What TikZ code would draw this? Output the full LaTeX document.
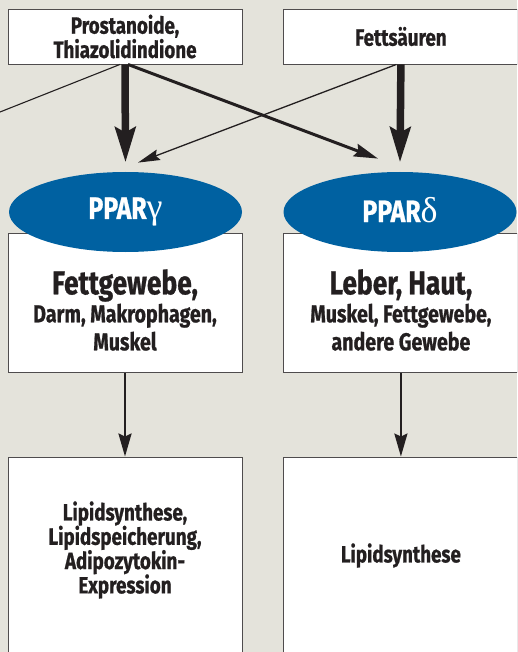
\documentclass[tikz,border=0pt]{standalone}
\usepackage{fontspec}
\setmainfont{Fira Sans}[FakeStretch=0.8, BoldFeatures={FakeBold=0.8}]
\newfontfamily\griech{Liberation Serif}
\usetikzlibrary{positioning,shapes.geometric,arrows.meta}
\definecolor{hintergrund}{HTML}{E4E3DB}
\definecolor{pparblau}{HTML}{0061A1}
\definecolor{schrift}{HTML}{231F20}

\begin{document}
\begin{tikzpicture}[x=1pt, y=-1pt, node distance={41pt}, thick,
        box/.style = {draw=schrift!80, line width=0.9pt, fill=white, minimum width=234pt, inner sep=0pt},
        rezeptor/.style = {ellipse, fill=pparblau, text=white, minimum width=233pt, minimum height=80pt, inner sep=0pt, font=\bfseries\fontsize{31}{31}\selectfont},
        txt/.style = {text=schrift, align=center, inner sep=0pt, font=\bfseries\fontsize{23.5}{24.3}\selectfont},
        gross/.style = {txt, font=\bfseries\fontsize{24.5}{28}\selectfont},
        pfeil/.style = {draw=schrift, -{Stealth[length=23pt, width=13pt, inset=3pt]}} ]
        \useasboundingbox (0,0) rectangle (517,652);
        \fill[hintergrund] (0,0) rectangle (517,652);
        \clip (0,0) rectangle (517,652);

        % Liganden
        \node[box, txt, minimum height=55pt, draw=schrift!80] (quelleL) at (125,36.5) {Prostanoide,\\Thiazolidindione};
        \node[box, txt, minimum height=55pt, draw=schrift!80] (quelleR) [right = of quelleL] {Fetts\"auren};

        % Gewebe
        \node[box, minimum height=139.6pt] (gewebeL) at (125,303) {};
        \node[box, minimum height=139.6pt] (gewebeR) [right = of gewebeL] {};

        % Wirkung
        \node[box, minimum height=197pt] (wirkungL) at (125,555.5) {};
        \node[box, minimum height=197pt] (wirkungR) [right = of wirkungL] {};

        % Rezeptoren
        \node[rezeptor] (pparG) at (125.5,212) {\raisebox{5pt}{PPAR{\griech\mdseries\fontsize{36}{36}\selectfont γ}}};
        \node[rezeptor] (pparD) at (400,212) {\raisebox{5pt}{PPAR{\griech\mdseries\fontsize{36}{36}\selectfont δ}}};

        \node[gross] (gewebeLtxt) at ([yshift=-7pt]gewebeL.center) {{\fontsize{33}{28}\selectfont Fettgewebe,}\\Darm, Makrophagen,\\Muskel};
        \node[gross] (gewebeRtxt) at ([yshift=-7pt]gewebeR.center) {{\fontsize{33}{28}\selectfont Leber, Haut,}\\Muskel, Fettgewebe,\\andere Gewebe};
        \node[txt] (wirkungLtxt) at ([yshift=5.5pt]wirkungL.center) {Lipidsynthese,\\Lipidspeicherung,\\Adipozytokin-\\Expression};
        \node[txt] (wirkungRtxt) at (wirkungR.center) {Lipidsynthese};

        \coordinate (links) at (0,112);

        \draw[schrift, line width=1.1pt] ([xshift=-5pt]quelleL.south) -- (links);
        \draw[pfeil, line width=7.5pt, -{Stealth[length=35pt, width=20pt, inset=5pt]}] (quelleL.south) -- ([yshift=9pt]pparG.north);
        \draw[pfeil, line width=7.5pt, -{Stealth[length=35pt, width=20pt, inset=5pt]}] (quelleR.south) -- ([yshift=9pt]pparD.north);
        \draw[pfeil, line width=3pt, -{Stealth[length=24pt, width=13pt, inset=3pt]}] ([xshift=3pt]quelleL.south) -- ([xshift=-22pt, yshift=13pt]pparD.north);
        \draw[pfeil, line width=1.3pt, -{Stealth[length=22pt, width=11pt, inset=3pt]}] ([xshift=-4.5pt]quelleR.south) -- ([xshift=12.5pt, yshift=9pt]pparG.north);
        \draw[pfeil, line width=2.5pt] (gewebeL.south) -- (wirkungL.north);
        \draw[pfeil, line width=2.5pt] (gewebeR.south) -- (wirkungR.north);

    \end{tikzpicture}
\end{document}
